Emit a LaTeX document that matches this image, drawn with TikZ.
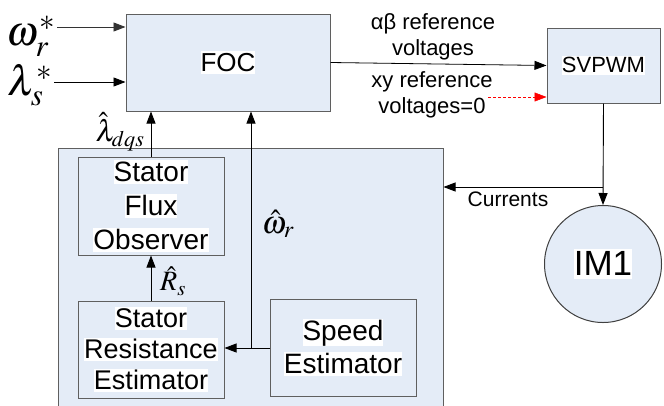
\documentclass[tikz,border=0pt]{standalone}
\usepackage{mathptmx}
\usepackage[no-math]{fontspec}
\setmainfont{Liberation Sans}
\usetikzlibrary{arrows.meta}
\definecolor{boxfill}{RGB}{228,236,247}
\definecolor{boxline}{RGB}{95,95,95}
\newcommand{\whl}[1]{{\setlength{\fboxsep}{0pt}\colorbox{white}{\vrule height 0.76em depth 0.1em width 0pt #1}}}
\tikzset{
  blk/.style={draw=boxline, line width=1pt, fill=boxfill, inner sep=0pt, align=center},
  conn/.style={line width=0.9pt, -{Triangle[length=12pt,width=9pt]}},
  lbl/.style={inner sep=0pt, align=center},
}
\begin{document}
\begin{tikzpicture}[x=1pt,y=-1pt]
\useasboundingbox (0,0) rectangle (664,405);
\clip (0,0) rectangle (664,405);
\fill[white] (0,0) rectangle (664,405);
% blocks
\node[blk, minimum width=204pt, minimum height=97pt, font=\fontsize{26}{30}\selectfont] (foc) at (228,62.5) {\whl{FOC}};
\node[blk, minimum width=113pt, minimum height=75pt, font=\fontsize{22}{26}\selectfont] (svpwm) at (603.5,65.5) {\whl{SVPWM}};
\node[blk, minimum width=385pt, minimum height=262pt] (outer) at (250.5,279) {};
\node[blk, minimum width=146pt, minimum height=98pt, font=\fontsize{28}{34}\selectfont] (sfo) at (151,206) {\whl{Stator}\\\whl{Flux}\\\whl{Observer}};
\node[blk, minimum width=146pt, minimum height=97pt, font=\fontsize{27}{31}\selectfont] (sre) at (151,349.5) {\whl{Stator}\\\whl{Resistance}\\\whl{Estimator}};
\node[blk, minimum width=146pt, minimum height=97pt, font=\fontsize{28}{33}\selectfont] (spd) at (343,347.5) {\whl{Speed}\\\whl{Estimator}};
\node[blk, circle, draw=black!75, minimum size=117pt, font=\fontsize{35}{40}\selectfont] (im) at (603,264) {\whl{IM1}};
% inputs
\coordinate (win) at (57,27);
\coordinate (lin) at (54,82);
\node[lbl, font=\fontsize{42}{44}\selectfont] (wlab) at (31,36) {$\omega_r^{*}$};
\node[lbl, font=\fontsize{42}{44}\selectfont] (llab) at (30,85) {$\lambda_s^{*}$};
\draw[conn, draw=black!80] (win) -- (win -| foc.west);
\draw[conn] (lin) -- (lin -| foc.west);
% FOC -> SVPWM
\draw[conn, line width=0.8pt] (foc.east) -- (svpwm.west);
\node[lbl, font=\fontsize{22}{25.5}\selectfont] (abl) at (433,37) {αβ reference\\voltages};
\coordinate (xys) at (488,97);
\draw[red, densely dashed, line width=0.5pt, -{Triangle[length=12pt,width=9pt]}] (xys) -- (xys -| svpwm.west);
\node[lbl, font=\fontsize{22}{25.5}\selectfont] (xyl) at (432,95) {xy reference\\voltages=0};
% SVPWM -> IM1, currents
\draw[conn] (svpwm.south) -- (im.north);
\coordinate (cj) at (603,187);
\draw[conn] (cj) -- (cj -| outer.east);
\node[lbl, font=\fontsize{21}{24}\selectfont] (curl) at (508,199) {Currents};
% observer outputs
\draw[conn] (sfo.north) -- (sfo.north |- foc.south);
\node[lbl, font=\fontsize{30}{32}\selectfont] (ldqs) at (120,132) {$\hat{\lambda}_{dqs}$};
\draw[conn] (sre.north) -- (sre.north |- sfo.south);
\node[lbl, font=\fontsize{28}{30}\selectfont] (rsl) at (173,281) {$\hat{R}_s$};
\coordinate (wj) at (251,348);
\draw[conn] (spd.west |- wj) -- (wj -| sre.east);
\draw[conn] (wj) -- (wj |- foc.south);
\node[lbl, font=\fontsize{32}{34}\selectfont] (wrl) at (278,224) {$\hat{\omega}_r$};
\end{tikzpicture}
\end{document}
